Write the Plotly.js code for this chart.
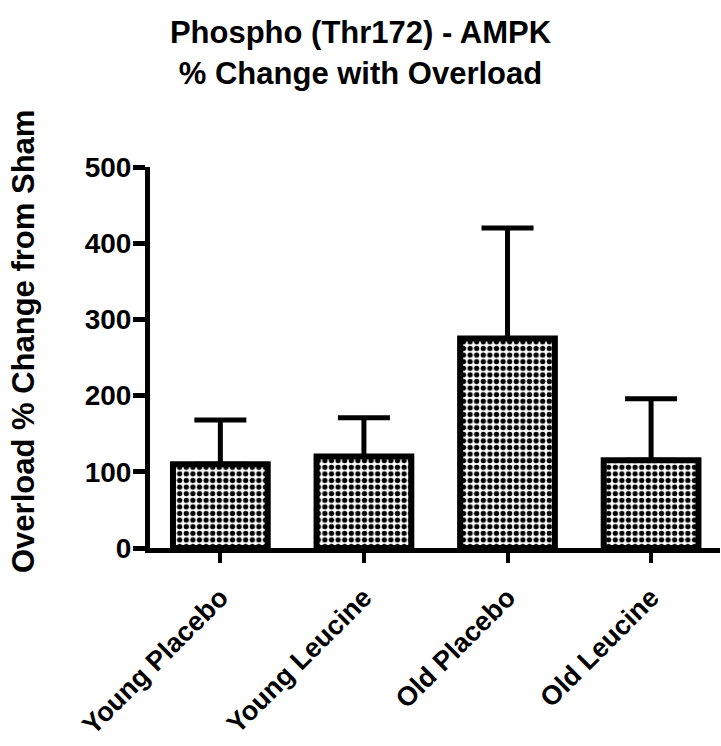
<!DOCTYPE html>
<html>
<head>
<meta charset="utf-8">
<script src="https://cdn.plot.ly/plotly-3.0.1.min.js"></script>
<style>html,body{margin:0;padding:0;background:#fff;}#chart{width:721px;height:746px;}</style>
</head>
<body>
<div id="chart"></div>
<script>
const categories = ["Young Placebo", "Young Leucine", "Old Placebo", "Old Leucine"];
const meanValues = [110, 120, 275, 115];
const errorValues = [58, 51, 145, 81];
const yTickValues = [0, 100, 200, 300, 400, 500];
const titleText = "Phospho (Thr172) - AMPK<br>% Change with Overload";
const yTitleText = "Overload % Change from Sham";

const FONT = "Liberation Sans, Arial, Helvetica, sans-serif";

const trace = {
  type: "bar",
  x: [0, 1, 2, 3],
  y: meanValues,
  width: 0.66,
  marker: {
    color: "white",
    line: {color: "black", width: 6},
    pattern: {shape: ".", fgcolor: "black", bgcolor: "white", size: 6.6, solidity: 0.5}
  },
  error_y: {
    type: "data",
    symmetric: false,
    array: errorValues,
    arrayminus: meanValues.map(() => 0),
    color: "black",
    thickness: 5,
    width: 26
  },
  hoverinfo: "skip"
};

const layout = {
  width: 721,
  height: 746,
  margin: {l: 150, r: 1, t: 167, b: 198, pad: 0},
  paper_bgcolor: "white",
  plot_bgcolor: "white",
  showlegend: false,
  font: {family: FONT, color: "black", weight: "bold"},
  title: {
    text: titleText,
    font: {family: FONT, size: 31, color: "black", weight: "bold"},
    xref: "container", x: 0.5, xanchor: "center",
    yref: "container", y: 0.942, yanchor: "top"
  },
  xaxis: {
    range: [-0.49, 3.48],
    tickmode: "array",
    tickvals: [0, 1, 2, 3],
    ticktext: categories,
    tickangle: -45,
    ticks: "outside",
    ticklen: 10,
    tickwidth: 4,
    tickcolor: "black",
    ticklabelstandoff: 8,
    showline: true,
    linecolor: "black",
    linewidth: 5,
    showgrid: false,
    zeroline: false,
    tickfont: {family: FONT, size: 27, color: "black", weight: "bold"},
    fixedrange: true
  },
  yaxis: {
    range: [0, 500],
    tickmode: "array",
    tickvals: yTickValues,
    ticktext: yTickValues.map(String),
    ticks: "outside",
    ticklen: 12,
    tickwidth: 5,
    tickcolor: "black",
    ticklabelstandoff: -4,
    showline: true,
    linecolor: "black",
    linewidth: 5,
    showgrid: false,
    zeroline: false,
    tickfont: {family: FONT, size: 28, color: "black", weight: "bold"},
    fixedrange: true
  },
  annotations: [{
    text: yTitleText,
    textangle: -90,
    xref: "paper", x: -0.223, xanchor: "center",
    yref: "paper", y: 0.543, yanchor: "middle",
    showarrow: false,
    font: {family: FONT, size: 31, color: "black", weight: "bold"}
  }]
};

Plotly.newPlot("chart", [trace], layout, {displayModeBar: false, staticPlot: true});
</script>
</body>
</html>
